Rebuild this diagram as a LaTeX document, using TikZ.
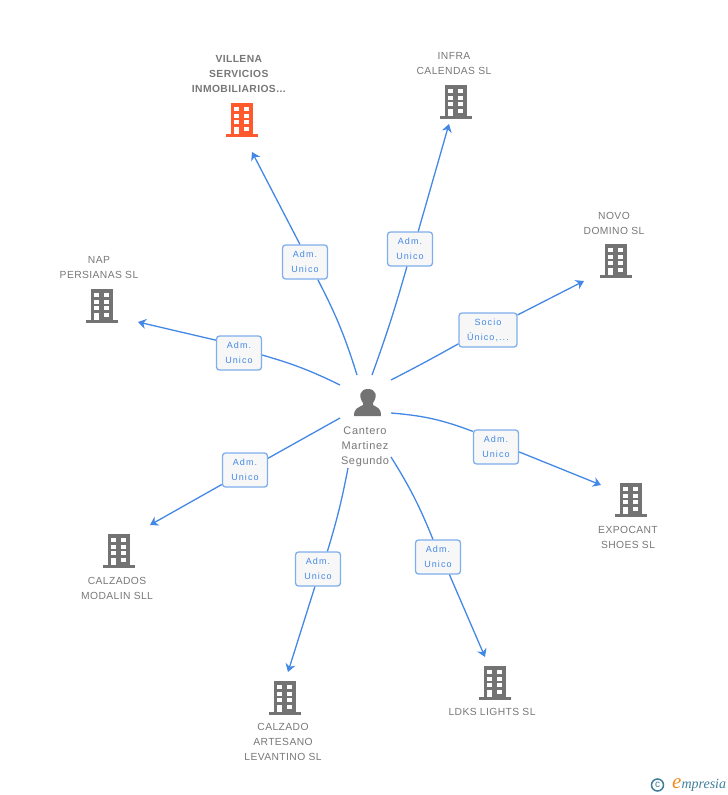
\documentclass[tikz,border=0pt]{standalone}
\usepackage{fontspec}
\setmainfont{Liberation Sans}[LetterSpace=4]
\newfontfamily\logofont{Liberation Serif}
\newfontfamily\boxfont{Liberation Sans}[LetterSpace=12]
\newfontfamily\segfont{Liberation Sans}[LetterSpace=6]
\usepackage{tikz}
\usetikzlibrary{arrows.meta}
\definecolor{lblgray}{HTML}{777777}
\definecolor{bldgray}{HTML}{737373}
\definecolor{bldred}{HTML}{FF5A2D}
\definecolor{linkblue}{HTML}{4488E6}
\definecolor{boxblue}{HTML}{7FAEEC}
\definecolor{logoteal}{HTML}{3F7F9A}
\definecolor{logoorange}{HTML}{F08A1D}

\begin{document}
\begin{tikzpicture}[x=1pt,y=-1pt]
% Node styles ---
\tikzstyle{lbl} = [align = center, inner sep = 0pt, text = lblgray, font = \fontsize{10.3}{15}\selectfont]
\tikzstyle{role} = [rectangle, rounded corners = 3pt, line width = 1.3pt, minimum width = 45pt, minimum height = 34pt, inner sep = 0pt, align = center, draw = boxblue, fill = white!97!black, text = linkblue, font = \boxfont\fontsize{9}{15}\selectfont]
\tikzstyle{con} = [draw = linkblue, line width = 1.3pt]
\tikzstyle{arr} = [-{Stealth[length = 8pt, width = 10pt, inset = 2.5pt]}, draw = linkblue, line width = 1.3pt]
\tikzstyle{bld} = [rectangle, minimum width = 32pt, minimum height = 34pt, inner sep = 0pt, path picture = {
  \begin{scope}[shift = {(path picture bounding box.center)}]
  \fill [#1] (-11,-17) rectangle (11,15);
  \fill [#1] (-16,14) rectangle (16,17);
  \fill [white] (-8,-13) rectangle (-3,-9);
  \fill [white] (2,-13) rectangle (7,-9);
  \fill [white] (-8,-6) rectangle (-3,-2);
  \fill [white] (2,-6) rectangle (7,-2);
  \fill [white] (-8,0) rectangle (-3,4);
  \fill [white] (2,0) rectangle (7,4);
  \fill [white] (-8,7) rectangle (-3,14);
  \fill [white] (2,7) rectangle (7,11);
  \end{scope}}]
\useasboundingbox (0,0) rectangle (728,795);
% Nodes
\node at (242,120) [bld = bldred] (vil) {};
\node at (456,102) [bld = bldgray] (inf) {};
\node at (616,261) [bld = bldgray] (nov) {};
\node at (102,306) [bld = bldgray] (nap) {};
\node at (631,500) [bld = bldgray] (exp) {};
\node at (119,551) [bld = bldgray] (mod) {};
\node at (285,698) [bld = bldgray] (art) {};
\node at (495,683) [bld = bldgray] (ldk) {};
\node at (239,74) [lbl] (vilt) {\textbf{VILLENA}\\\textbf{SERVICIOS}\\\textbf{INMOBILIARIOS...}};
\node at (454,64) [lbl] (inft) {INFRA\\CALENDAS SL};
\node at (614,223) [lbl] (novt) {NOVO\\DOMINO SL};
\node at (99,268) [lbl] (napt) {NAP\\PERSIANAS SL};
\node at (628,537) [lbl] (expt) {EXPOCANT\\SHOES SL};
\node at (117,588) [lbl] (modt) {CALZADOS\\MODALIN SLL};
\node at (283,742) [lbl] (artt) {CALZADO\\ARTESANO\\LEVANTINO SL};
\node at (492,712) [lbl] (ldkt) {LDKS LIGHTS SL};
\node at (365,447) [lbl, font = \segfont\fontsize{11}{15}\selectfont] (segt) {Cantero\\Martinez\\Segundo};
% Person
\node at (368,403) [minimum width = 28pt, minimum height = 28pt, inner sep = 0pt] (seg) {};
\fill [bldgray] (354,416) .. controls (354,408) and (358,408) .. (363,405) -- (363,403) .. controls (358,396) and (360,389) .. (368,389) .. controls (376,389) and (378,396) .. (373,403) -- (373,405) .. controls (378,408) and (381,408) .. (381,416) -- cycle;
% Path ends
\coordinate (s1) at (357,375);
\coordinate (s2) at (372,375);
\coordinate (s3) at (391,380);
\coordinate (s4) at (391,413);
\coordinate (s5) at (391,457);
\coordinate (s6) at (348,468);
\coordinate (s7) at (340,418);
\coordinate (s8) at (340,385);
\coordinate (e1) at (252,152);
\coordinate (e2) at (449,124);
\coordinate (e3) at (584,281);
\coordinate (e4) at (601,485);
\coordinate (e5) at (485,657);
\coordinate (e6) at (288,672);
\coordinate (e7) at (150,525);
\coordinate (e8) at (138,322);
% Boxes
\node at (305,262) [role] (r1) {Adm.\\Unico};
\node at (410,249) [role] (r2) {Adm.\\Unico};
\node at (488,330) [role, minimum width = 58pt] (r3) {Socio\\Único,...};
\node at (496,447) [role] (r4) {Adm.\\Unico};
\node at (438,557) [role] (r5) {Adm.\\Unico};
\node at (318,569) [role] (r6) {Adm.\\Unico};
\node at (245,470) [role] (r7) {Adm.\\Unico};
\node at (239,353) [role] (r8) {Adm.\\Unico};
% Paths
\path (s1) edge [con, bend right = 5] node {} (r1.-54);
\path (s2) edge [con, bend right = 2] node {} (r2.-100);
\path (s3) edge [con, bend right = 1] node {} (r3.205);
\path (s4) edge [con, bend left = 8] node {} (r4.146);
\path (s5) edge [con, bend left = 5] node {} (r5.106);
\path (s6) edge [con, bend left = 3] node {} (r6.62);
\path (s7) edge [con] node {} (r7.27);
\path (s8) edge [con, bend right = 5] node {} (r8.-5);
\path (r1.106) edge [arr] node {} (e1);
\path (r2.65) edge [arr] node {} (e2);
\path (r3.27) edge [arr] node {} (e3);
\path (r4.-12) edge [arr] node {} (e4);
\path (r5.-57) edge [arr] node {} (e5);
\path (r6.-100) edge [arr] node {} (e6);
\path (r7.212) edge [arr] node {} (e7);
\path (r8.151) edge [arr] node {} (e8);
% Logo
\node at (657.5,785) [circle, line width = 1.5pt, draw = logoteal, minimum size = 12pt, inner sep = 0pt, text = logoteal, font = \fontsize{10}{10}\selectfont] (copy) {c};
\node at (672,788) [anchor = base west, inner sep = 0pt, text = logoteal, font = \logofont\itshape\fontsize{14}{14}\selectfont] (logo) {\textcolor{logoorange}{\fontsize{21}{21}\selectfont e}mpresia};
\end{tikzpicture}
\end{document}
